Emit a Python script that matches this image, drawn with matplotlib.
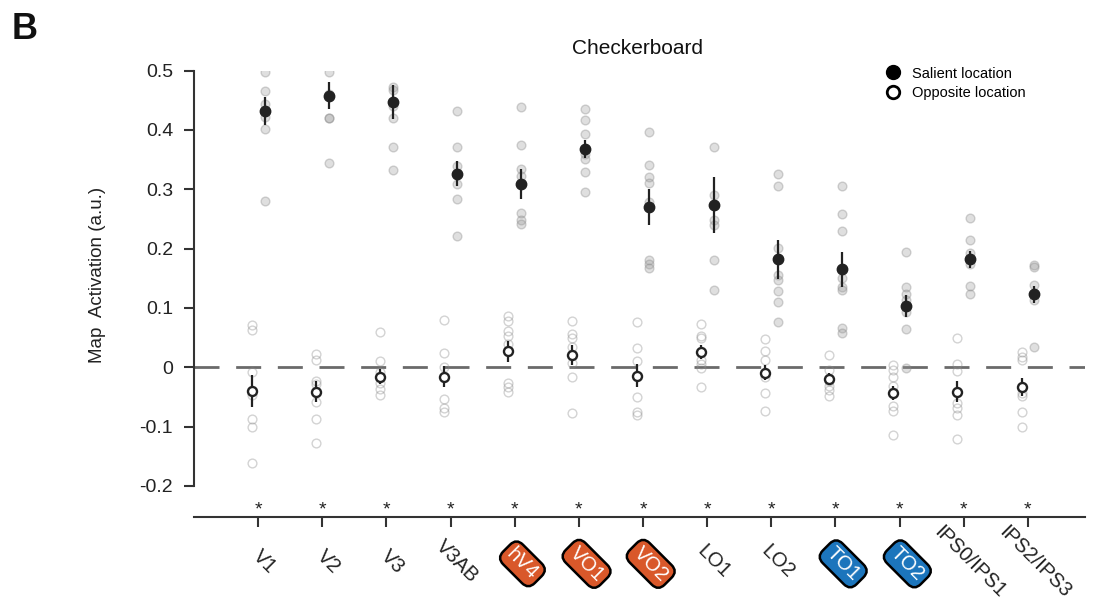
import matplotlib
matplotlib.use('Agg')
import matplotlib.pyplot as plt
from matplotlib.lines import Line2D
import matplotlib.transforms as mtransforms

plt.rcParams['font.family'] = ['Liberation Sans', 'DejaVu Sans']

regions = ['V1', 'V2', 'V3', 'V3AB', 'hV4', 'VO1', 'VO2', 'LO1', 'LO2',
           'TO1', 'TO2', 'IPS0/IPS1', 'IPS2/IPS3']
badge_colors = {'hV4': '#d9582a', 'VO1': '#d9582a', 'VO2': '#d9582a',
                'TO1': '#1c75bc', 'TO2': '#1c75bc'}

# group means and s.e.m.
sal_mean = [0.432, 0.458, 0.447, 0.326, 0.309, 0.368, 0.270, 0.274, 0.182,
            0.165, 0.103, 0.182, 0.123]
sal_sem = [0.024, 0.023, 0.029, 0.021, 0.025, 0.015, 0.030, 0.047, 0.033,
           0.030, 0.019, 0.014, 0.014]
opp_mean = [-0.040, -0.041, -0.016, -0.016, 0.027, 0.021, -0.014, 0.026,
            -0.009, -0.020, -0.044, -0.041, -0.033]
opp_sem = [0.027, 0.017, 0.013, 0.018, 0.018, 0.017, 0.019, 0.012, 0.012,
           0.010, 0.012, 0.018, 0.015]

# single subjects
sal_points = [
    [0.498, 0.466, 0.444, 0.422, 0.402, 0.280],
    [0.497, 0.461, 0.420, 0.420, 0.345],
    [0.473, 0.468, 0.441, 0.421, 0.371, 0.333],
    [0.432, 0.371, 0.339, 0.309, 0.283, 0.221],
    [0.438, 0.375, 0.334, 0.322, 0.260, 0.248, 0.241],
    [0.435, 0.416, 0.393, 0.360, 0.351, 0.330, 0.295],
    [0.396, 0.341, 0.321, 0.310, 0.278, 0.180, 0.174, 0.167],
    [0.371, 0.291, 0.248, 0.240, 0.180, 0.130],
    [0.326, 0.306, 0.201, 0.155, 0.147, 0.129, 0.110, 0.077],
    [0.306, 0.258, 0.229, 0.150, 0.135, 0.130, 0.066, 0.057],
    [0.194, 0.135, 0.124, 0.113, 0.093, 0.064, -0.002],
    [0.251, 0.214, 0.193, 0.174, 0.137, 0.124],
    [0.172, 0.169, 0.139, 0.113, 0.034],
]
opp_points = [
    [0.072, 0.063, -0.008, -0.046, -0.088, -0.101, -0.162],
    [0.023, 0.012, -0.024, -0.028, -0.059, -0.088, -0.127],
    [0.060, 0.010, -0.008, -0.027, -0.036, -0.047],
    [0.080, 0.024, 0.001, -0.053, -0.068, -0.076],
    [0.087, 0.078, 0.061, 0.052, 0.039, -0.026, -0.033, -0.041],
    [0.078, 0.056, 0.049, 0.034, 0.007, -0.017, -0.077],
    [0.077, 0.033, 0.010, -0.051, -0.075, -0.080],
    [0.073, 0.052, 0.049, 0.012, 0.006, -0.001, -0.034],
    [0.048, 0.028, 0.013, -0.016, -0.044, -0.074],
    [0.020, -0.004, -0.024, -0.032, -0.038, -0.048],
    [0.003, -0.005, -0.017, -0.032, -0.066, -0.073, -0.115],
    [0.050, 0.006, -0.006, -0.061, -0.069, -0.080, -0.121],
    [0.026, 0.018, 0.012, -0.044, -0.048, -0.076, -0.101],
]
significant = [True] * len(regions)

fig = plt.figure(figsize=(10.94, 6.14), dpi=100)
ax = fig.add_axes([0.1773, 0.158, 0.8145, 0.7269])

dark = '#222222'
shift = 0.1
for i in range(len(regions)):
    x = i + 1
    xs = x + shift
    xo = x - shift
    ax.plot([xs] * len(sal_points[i]), sal_points[i], 'o', ms=6.3,
            mfc=(0.62, 0.62, 0.62, 0.33), mec=(0.5, 0.5, 0.5, 0.33), mew=1,
            zorder=2)
    ax.plot([xo] * len(opp_points[i]), opp_points[i], 'o', ms=6.3,
            mfc='none', mec=(0.55, 0.55, 0.55, 0.38), mew=1, zorder=2)
    ax.errorbar(xs, sal_mean[i], yerr=sal_sem[i], fmt='o', ms=7.5,
                color=dark, mfc=dark, mec=dark, elinewidth=1.6, capsize=0,
                zorder=4)
    ax.errorbar(xo, opp_mean[i], yerr=opp_sem[i], fmt='o', ms=6.5,
                color=dark, mfc='white', mec=dark, mew=1.7, elinewidth=1.6,
                capsize=0, zorder=4)
    if significant[i]:
        ax.text(x, -0.249, '*', ha='center', va='baseline', fontsize=14,
                color=dark)

ax.axhline(0, color='#6a6a6a', lw=2.0, dashes=(9, 6), zorder=1)

ax.set_xlim(0, 13.89)
ax.set_ylim(-0.2525, 0.5)

ax.spines['top'].set_visible(False)
ax.spines['right'].set_visible(False)
ax.spines['left'].set_bounds(-0.2, 0.5)
for s in ('left', 'bottom'):
    ax.spines[s].set_linewidth(1.5)
    ax.spines[s].set_color('#333333')

ax.set_yticks([-0.2, -0.1, 0, 0.1, 0.2, 0.3, 0.4, 0.5])
ax.set_yticklabels(['-0.2', '-0.1', '0', '0.1', '0.2', '0.3', '0.4', '0.5'])
ax.set_xticks(range(1, len(regions) + 1))
ax.set_xticklabels([])
ax.tick_params(axis='both', direction='out', length=7, width=1.5,
               color='#333333', labelsize=14, labelcolor=dark, pad=8)

# rotated region names, some on coloured badges
trans = mtransforms.blended_transform_factory(ax.transData, ax.transAxes)
for i, name in enumerate(regions):
    kw = dict(ha='center', va='center', rotation=-45, rotation_mode='anchor',
              fontsize=14.5, transform=trans)
    if name in badge_colors:
        ax.text(i + 1.12, -0.105, name, color='white',
                bbox=dict(boxstyle='round,pad=0.22,rounding_size=0.45',
                          fc=badge_colors[name], ec='black', lw=1.8), **kw)
    else:
        ax.text(i + 1.1, -0.1, name, color=dark, **kw)

ax.text(0.498, 1.05, 'Checkerboard', transform=ax.transAxes, ha='center',
        va='center', fontsize=15, color='#111111')
fig.text(0.0887, 0.552, 'Map  Activation (a.u.)', rotation=90, ha='center',
         va='center', fontsize=13.5, color=dark)
fig.text(0.011, 0.952, 'B', fontsize=26, fontweight='bold', color='#111111',
         ha='left', va='center')

handles = [
    Line2D([], [], ls='none', marker='o', ms=10, mfc='black', mec='black'),
    Line2D([], [], ls='none', marker='o', ms=9, mfc='white', mec='black',
           mew=2),
]
fig.legend(handles, ['Salient location', 'Opposite location'],
           loc='upper left', bbox_to_anchor=(0.803, 0.9035),
           frameon=False, fontsize=10.5, handlelength=1.0,
           handletextpad=0.8, borderpad=0, labelspacing=0.35)

fig.savefig('out.png', dpi=100)
